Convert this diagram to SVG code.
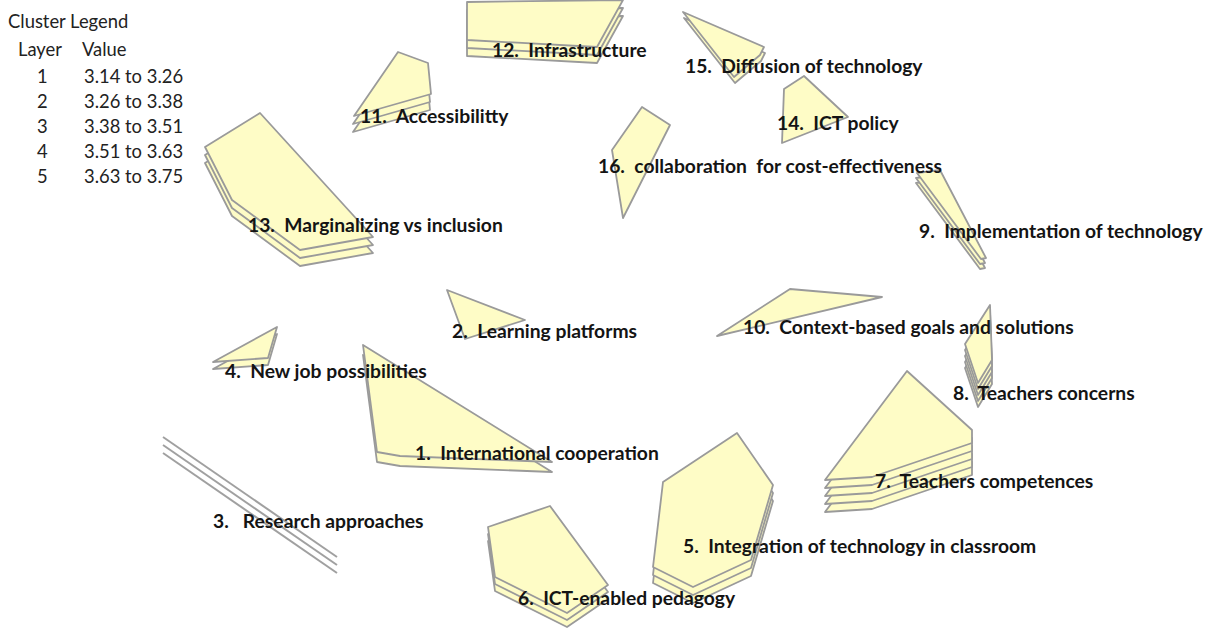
<svg xmlns="http://www.w3.org/2000/svg" xmlns:xlink="http://www.w3.org/1999/xlink" width="1212" height="630" viewBox="0 0 1212 630">
<style>
.sh{fill:#fefcc6;stroke:#9a9a9a;stroke-width:1.8;stroke-linejoin:round}
.ln{fill:none;stroke:#a0a0a0;stroke-width:2}
.lbl{font-family:Lato,"Open Sans",sans-serif;font-weight:bold;font-size:19.3px;fill:#141414;white-space:pre}
.lg{font-family:Lato,"Open Sans",sans-serif;font-size:18.4px;fill:#222;white-space:pre}
</style>
<defs>
<polygon id="p11" points="398,52 428,63 431,94 354,116"/>
<polygon id="p13" points="260,113 205,147 232,200 300,250 373,237"/>
<polygon id="p12" points="467,2 623,0 597,47 467,40"/>
<polygon id="p15" points="683,12 764,47 760,55 734,77"/>
<polygon id="p14" points="804,76 848,117 782,143 784,89"/>
<polygon id="p16" points="642,107 670,125 623,218 612,150"/>
<polygon id="p9" points="917,173 940,170 986,258 981,259"/>
<polygon id="p8" points="990,305 992,360 978,383 965,344"/>
<polygon id="p10" points="790,289 882,297 717,336"/>
<polygon id="p7" points="907,371 972,430 972,443 872,477 825,480"/>
<polygon id="p5" points="737,433 773,485 751,560 693,587 653,567 663,482"/>
<polygon id="p6" points="550,506 608,585 567,613 495,577 488,527"/>
<polygon id="p1" points="363,345 552,462 400,456 377,452"/>
<polygon id="p2" points="447,290 525,320 465,339"/>
<polygon id="p4" points="277,327 268,358 213,362"/>
<line id="p3" x1="163" y1="437" x2="337" y2="557"/>
</defs>

<g id="legend">
<text class="lg" x="8" y="28">Cluster Legend</text>
<text class="lg" x="18" y="56">Layer</text>
<text class="lg" x="82" y="56">Value</text>
<text class="lg" x="37" y="83">1</text><text class="lg" x="84" y="83">3.14 to 3.26</text>
<text class="lg" x="37" y="108">2</text><text class="lg" x="84" y="108">3.26 to 3.38</text>
<text class="lg" x="37" y="133">3</text><text class="lg" x="84" y="133">3.38 to 3.51</text>
<text class="lg" x="37" y="158">4</text><text class="lg" x="84" y="158">3.51 to 3.63</text>
<text class="lg" x="37" y="183">5</text><text class="lg" x="84" y="183">3.63 to 3.75</text>
</g>

<g id="connectors"/>

<g id="cluster8">
<use href="#p8" class="sh" transform="translate(0,24)"/>
<use href="#p8" class="sh" transform="translate(0,18)"/>
<use href="#p8" class="sh" transform="translate(0,12)"/>
<use href="#p8" class="sh" transform="translate(0,6)"/>
<use href="#p8" class="sh"/>
<text class="lbl" x="953" y="400">8.  Teachers concerns</text>
</g>
<g id="cluster9">
<use href="#p9" class="sh" transform="translate(-1,10)"/>
<use href="#p9" class="sh" transform="translate(-1,5)"/>
<use href="#p9" class="sh"/>
<text class="lbl" x="919" y="238">9.  Implementation of technology</text>
</g>
<g id="cluster14">
<use href="#p14" class="sh"/>
<text class="lbl" x="777" y="130">14.  ICT policy</text>
</g>
<g id="cluster12">
<use href="#p12" class="sh" transform="translate(0,16)"/>
<use href="#p12" class="sh" transform="translate(0,8)"/>
<use href="#p12" class="sh"/>
<text class="lbl" x="492" y="57">12.  Infrastructure</text>
</g>
<g id="cluster11">
<use href="#p11" class="sh" transform="translate(-1,16)"/>
<use href="#p11" class="sh" transform="translate(-1,8)"/>
<use href="#p11" class="sh"/>
<text class="lbl" x="360" y="123">11.  Accessibilitty</text>
</g>
<g id="cluster13">
<use href="#p13" class="sh" transform="translate(0,16)"/>
<use href="#p13" class="sh" transform="translate(0,8)"/>
<use href="#p13" class="sh"/>
<text class="lbl" x="248" y="232">13.  Marginalizing vs inclusion</text>
</g>
<g id="cluster15">
<use href="#p15" class="sh" transform="translate(1,6)"/>
<use href="#p15" class="sh"/>
<text class="lbl" x="685" y="73">15.  Diffusion of technology</text>
</g>
<g id="cluster16">
<use href="#p16" class="sh"/>
<text class="lbl" x="598" y="173">16.  collaboration  for cost-effectiveness</text>
</g>
<g id="cluster10">
<use href="#p10" class="sh"/>
<text class="lbl" x="743" y="334">10.  Context-based goals and solutions</text>
</g>
<g id="cluster7">
<use href="#p7" class="sh" transform="translate(0,32)"/>
<use href="#p7" class="sh" transform="translate(0,24)"/>
<use href="#p7" class="sh" transform="translate(0,16)"/>
<use href="#p7" class="sh" transform="translate(0,8)"/>
<use href="#p7" class="sh"/>
<text class="lbl" x="875" y="488">7.  Teachers competences</text>
</g>
<g id="cluster5">
<use href="#p5" class="sh" transform="translate(0,16)"/>
<use href="#p5" class="sh" transform="translate(0,8)"/>
<use href="#p5" class="sh"/>
<text class="lbl" x="683" y="553">5.  Integration of technology in classroom</text>
</g>
<g id="cluster6">
<use href="#p6" class="sh" transform="translate(0,14)"/>
<use href="#p6" class="sh" transform="translate(0,7)"/>
<use href="#p6" class="sh"/>
<text class="lbl" x="518" y="605">6.  ICT-enabled pedagogy</text>
</g>
<g id="cluster1">
<use href="#p1" class="sh" transform="translate(0,10)"/>
<use href="#p1" class="sh"/>
<text class="lbl" x="415" y="460">1.  International cooperation</text>
</g>
<g id="cluster2">
<use href="#p2" class="sh"/>
<text class="lbl" x="452" y="338">2.  Learning platforms</text>
</g>
<g id="cluster4">
<use href="#p4" class="sh" transform="translate(0,7)"/>
<use href="#p4" class="sh"/>
<text class="lbl" x="225" y="378">4.  New job possibilities</text>
</g>
<g id="cluster3">
<use href="#p3" class="ln" transform="translate(0,16)"/>
<use href="#p3" class="ln" transform="translate(0,8)"/>
<use href="#p3" class="ln"/>
<text class="lbl" x="213" y="528">3.   Research approaches</text>
</g>
</svg>
